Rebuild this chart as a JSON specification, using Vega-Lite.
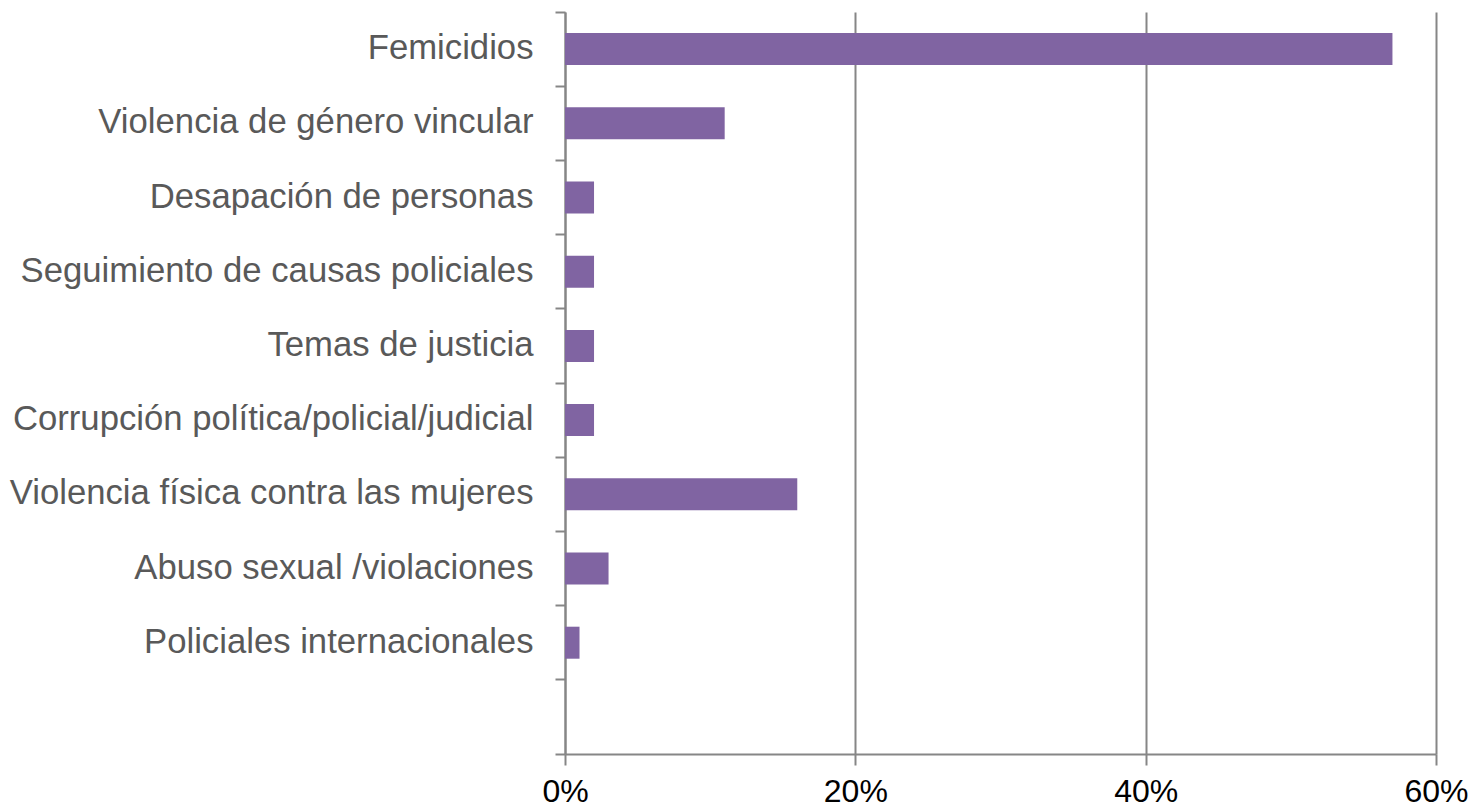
{
  "$schema": "https://vega.github.io/schema/vega-lite/v6.json",
  "autosize": {"type": "none"},
  "padding": {"left": 565, "top": 12, "right": 44, "bottom": 54},
  "width": 871,
  "height": 742,
  "background": "white",
  "config": {"view": {"stroke": null}, "font": "Liberation Sans"},
  "data": {"values": [
    {"tema": "Femicidios", "pct": 0.57},
    {"tema": "Violencia de género vincular", "pct": 0.11},
    {"tema": "Desapación de personas", "pct": 0.02},
    {"tema": "Seguimiento de causas policiales", "pct": 0.02},
    {"tema": "Temas de justicia", "pct": 0.02},
    {"tema": "Corrupción política/policial/judicial", "pct": 0.02},
    {"tema": "Violencia física contra las mujeres", "pct": 0.16},
    {"tema": "Abuso sexual /violaciones", "pct": 0.03},
    {"tema": "Policiales internacionales", "pct": 0.01}
  ]},
  "mark": {"type": "bar", "color": "#8064A2", "height": 32},
  "encoding": {
    "y": {
      "field": "tema", "type": "nominal", "title": null,
      "scale": {"domain": ["Femicidios", "Violencia de género vincular", "Desapación de personas", "Seguimiento de causas policiales", "Temas de justicia", "Corrupción política/policial/judicial", "Violencia física contra las mujeres", "Abuso sexual /violaciones", "Policiales internacionales", " "], "paddingInner": 0, "paddingOuter": 0},
      "axis": {
        "bandPosition": 1, "tickExtra": true,
        "domainColor": "#868686", "domainWidth": 2,
        "tickColor": "#868686", "tickWidth": 2, "tickSize": 10,
        "labelFont": "Liberation Sans", "labelFontSize": 34.7, "labelColor": "#595959",
        "labelPadding": 22, "labelLimit": 600
      }
    },
    "x": {
      "field": "pct", "type": "quantitative", "title": null,
      "scale": {"domain": [0, 0.6], "nice": false},
      "axis": {
        "values": [0, 0.2, 0.4, 0.6], "format": ".0%", "labelFlush": false,
        "domainColor": "#868686", "domainWidth": 2,
        "tickColor": "#868686", "tickWidth": 2, "tickSize": 11,
        "grid": true, "gridColor": "#868686", "gridWidth": 2,
        "labelFont": "Liberation Sans", "labelFontSize": 32, "labelColor": "#000000",
        "labelPadding": 11
      }
    }
  }
}
